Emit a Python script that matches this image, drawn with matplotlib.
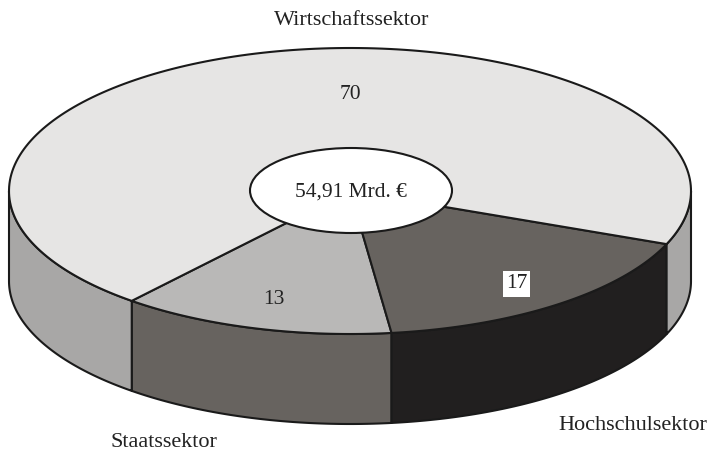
import numpy as np
import matplotlib
matplotlib.use("Agg")
import matplotlib.pyplot as plt
from matplotlib.patches import Polygon, Ellipse

# ---- data ----
sectors = ["Staatssektor", "Hochschulsektor", "Wirtschaftssektor"]
shares = [13, 17, 70]
value_labels = ["13", "17", "70"]
total_label = "54,91 Mrd. €"

# ---- style ----
top_colors = ["#b9b8b7", "#67635f", "#e6e5e4"]
side_colors = ["#67635f", "#211f1f", "#a8a7a6"]
start_angle = 230.2          # parametric angle where the first slice starts (ccw)
cx, cy, a, b = 350.0, 191.0, 341.0, 143.0   # pixel geometry of top ellipse
H = 90.0                       # thickness in pixels
lw = 1.5
font = "Liberation Serif"

fig = plt.figure(figsize=(7.15, 4.51), dpi=100)
ax = fig.add_axes([0, 0, 1, 1])
ax.set_xlim(0, 715)
ax.set_ylim(451, 0)
ax.axis("off")


def arc(t1, t2, dy=0.0, n=200):
    ts = np.radians(np.linspace(t1, t2, n))
    return np.column_stack([cx + a * np.cos(ts), cy - b * np.sin(ts) + dy])


angles = np.concatenate([[0], np.cumsum(shares)]) / sum(shares) * 360 + start_angle

# sides
for i in range(len(shares)):
    t1, t2 = angles[i], angles[i + 1]
    for lo, hi in [(180, 360), (540, 720)]:
        s1, s2 = max(t1, lo), min(t2, hi)
        if s2 > s1:
            pts = np.vstack([arc(s1, s2), arc(s2, s1, H)])
            ax.add_patch(Polygon(pts, closed=True, facecolor=side_colors[i],
                                 edgecolor="#1a1a1a", lw=lw, joinstyle="round"))

# tops
for i in range(len(shares)):
    t1, t2 = angles[i], angles[i + 1]
    pts = np.vstack([[cx, cy], arc(t1, t2)])
    ax.add_patch(Polygon(pts, closed=True, facecolor=top_colors[i],
                         edgecolor="#1a1a1a", lw=lw, joinstyle="round"))

# center ellipse
ax.add_patch(Ellipse((351, 190.5), 202, 85, facecolor="white",
                     edgecolor="#1a1a1a", lw=lw))
ax.text(350.5, 197, total_label, ha="center", va="baseline",
        fontsize=15.5, family=font, color="#222222")

# value labels
ax.text(273.5, 304, value_labels[0], ha="center", va="baseline",
        fontsize=15.5, family=font, color="#222222")
ax.text(516.5, 288.5, value_labels[1], ha="center", va="baseline",
        fontsize=15.5, family=font, color="#222222",
        bbox=dict(boxstyle="square,pad=0.15", facecolor="white", edgecolor="none"))
ax.text(350, 99, value_labels[2], ha="center", va="baseline",
        fontsize=15.5, family=font, color="#222222")

# sector labels
ax.text(352, 25, sectors[2], ha="center", va="baseline",
        fontsize=16, family=font, color="#222222")
ax.text(558, 430, sectors[1], ha="left", va="baseline",
        fontsize=16, family=font, color="#222222")
ax.text(163.5, 447, sectors[0], ha="center", va="baseline",
        fontsize=16, family=font, color="#222222")

fig.savefig("out.png", dpi=100)
